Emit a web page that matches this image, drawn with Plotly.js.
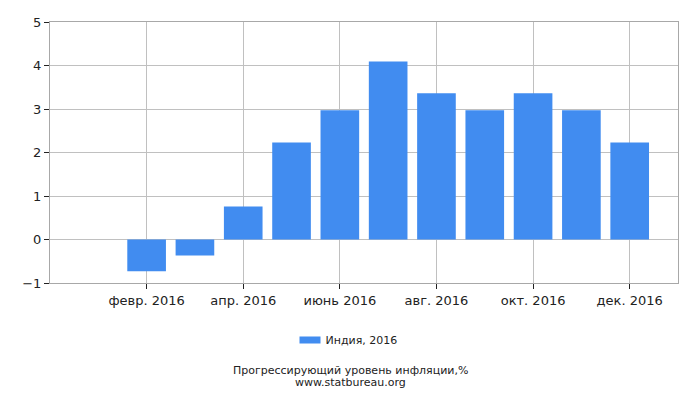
<!DOCTYPE html>
<html>
<head>
<meta charset="utf-8">
<script src="https://cdn.plot.ly/plotly-3.0.1.min.js"></script>
<style>html,body{margin:0;padding:0;background:#fff;}#chart{width:700px;height:400px;}</style>
</head>
<body>
<div id="chart"></div>
<script>
const months = ["янв. 2016","февр. 2016","март 2016","апр. 2016","май 2016","июнь 2016","июль 2016","авг. 2016","сент. 2016","окт. 2016","нояб. 2016","дек. 2016"];
const values = [null, -0.73, -0.37, 0.76, 2.23, 2.97, 4.09, 3.36, 2.97, 3.36, 2.97, 2.23];
const tickMonths = ["февр. 2016","апр. 2016","июнь 2016","авг. 2016","окт. 2016","дек. 2016"];
const seriesName = "Индия, 2016";
const titleLine1 = "Прогрессирующий уровень инфляции,%";
const titleLine2 = "www.statbureau.org";

const font = {family: "DejaVu Sans, sans-serif", size: 13, color: "#222"};
const pageCenter = (350 - 50) / 628;

Plotly.newPlot("chart", [{
  type: "bar",
  x: months,
  y: values,
  name: seriesName,
  marker: {color: "#418CF0"},
  width: 0.8
}], {
  width: 700, height: 400,
  margin: {l: 50, r: 22, t: 22, b: 117},
  paper_bgcolor: "#fff", plot_bgcolor: "#fff",
  font: font,
  showlegend: true,
  xaxis: {
    type: "category",
    range: [-1, 12],
    tickvals: tickMonths,
    ticktext: tickMonths,
    showgrid: true, gridcolor: "#c0c0c0", gridwidth: 1,
    showline: true, linecolor: "#a8a8a8", linewidth: 1, mirror: true,
    ticks: "outside", ticklen: 5, tickcolor: "#222",
    tickfont: font,
    zeroline: false,
    fixedrange: true
  },
  yaxis: {
    range: [-1, 5],
    tickvals: [-1, 0, 1, 2, 3, 4, 5],
    showgrid: true, gridcolor: "#c0c0c0", gridwidth: 1,
    showline: true, linecolor: "#a8a8a8", linewidth: 1, mirror: true,
    ticks: "outside", ticklen: 5, tickcolor: "#222",
    tickfont: font,
    zeroline: false,
    fixedrange: true
  },
  legend: {
    orientation: "h",
    x: pageCenter - 6 / 628, xanchor: "center",
    y: -0.218, yanchor: "middle",
    font: {family: "DejaVu Sans, sans-serif", size: 11, color: "#222"}
  },
  annotations: [
    {text: titleLine1, xref: "paper", yref: "paper", x: pageCenter, xanchor: "center",
     y: -0.337, yanchor: "middle", showarrow: false,
     font: {family: "DejaVu Sans, sans-serif", size: 11, color: "#222"}},
    {text: titleLine2, xref: "paper", yref: "paper", x: pageCenter, xanchor: "center",
     y: -0.38, yanchor: "middle", showarrow: false,
     font: {family: "DejaVu Sans, sans-serif", size: 11, color: "#222"}}
  ]
}, {staticPlot: true}).then(function(gd) {
  // reshape legend swatch into a wide flat rectangle like the reference
  gd.querySelectorAll(".legend .legendpoints path").forEach(function(p) {
    p.setAttribute("d", "M-6,-3.5h21v7h-21z");
  });
});
</script>
</body>
</html>
